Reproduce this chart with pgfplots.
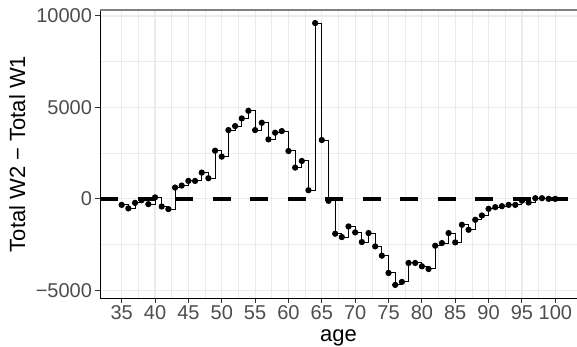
\documentclass[border=0pt]{standalone}
\usepackage{pgfplots}
\pgfplotsset{compat=1.18}
\usepackage{fontspec}
\setmainfont{Liberation Sans}
\definecolor{gridc}{HTML}{EBEBEB}
\definecolor{tickc}{HTML}{4D4D4D}
\definecolor{tickm}{HTML}{333333}
\begin{document}
\begin{tikzpicture}
\begin{axis}[
  at={(100bp,49bp)}, anchor=south west,
  width=477bp, height=288bp, scale only axis,
  xmin=31.75, xmax=103.25, ymin=-5422, ymax=10328,
  axis lines*=left,
  axis line style={black, line width=1bp, -},
  xtick={35,40,...,100},
  ytick={-5000,0,5000,10000},
  yticklabels={−5000,0,5000,10000},
  scaled ticks=false,
  minor x tick num=1, minor y tick num=1,
  grid=both,
  major grid style={gridc, line width=1.1bp},
  minor grid style={gridc, line width=0.6bp},
  tick align=outside,
  major tick length=4.5bp, minor tick length=0pt,
  tick style={tickm, line width=1bp},
  /pgf/number format/assume math mode=true,
  /pgf/number format/set thousands separator={},
  ticklabel style={font=\fontsize{20bp}{24bp}\selectfont, text=tickc},
  xlabel={age}, ylabel={Total W2 − Total W1},
  label style={font=\fontsize{22bp}{26bp}\selectfont},
  xlabel style={at={(axis description cs:0.5,-0.1493)}, anchor=base},
  ylabel style={at={(axis description cs:-0.157,0.5)}, anchor=base, rotate=0},
  clip=false,
]
\addplot[black, line width=3.5bp, dash pattern=on 18bp off 19.5bp, forget plot]
  coordinates {(31.75,0) (103.25,0)};
\addplot[const plot, black, line width=1bp, mark=*, mark size=2.6bp, mark options={solid}]
  coordinates {
(35,-330) (36,-520) (37,-220) (38,-70) (39,-290) (40,80) (41,-420) (42,-560)
(43,618) (44,727) (45,981) (46,981) (47,1435) (48,1127) (49,2635) (50,2308)
(51,3761) (52,3979) (53,4397) (54,4815) (55,3761) (56,4161) (57,3252) (58,3616)
(59,3707) (60,2617) (61,1708) (62,2071) (63,472) (64,9612) (65,3216) (66,-109)
(67,-1908) (68,-2090) (69,-1508) (70,-1835) (71,-2362) (72,-1871) (73,-2598) (74,-3107)
(75,-4052) (76,-4706) (77,-4543) (78,-3507) (79,-3507) (80,-3690) (81,-3836) (82,-2563)
(83,-2418) (84,-1872) (85,-2381) (86,-1418) (87,-1690) (88,-1145) (89,-909) (90,-545)
(91,-455) (92,-400) (93,-330) (94,-330) (95,-100) (96,-200) (97,36) (98,36)
(99,0) (100,0)
  };
\draw[black!50, line width=1.5bp] (rel axis cs:0,1) -- (rel axis cs:1,1);
\end{axis}
\pgfresetboundingbox
\path[use as bounding box] (0,0) rectangle (577bp,347bp);
\end{tikzpicture}
\end{document}
